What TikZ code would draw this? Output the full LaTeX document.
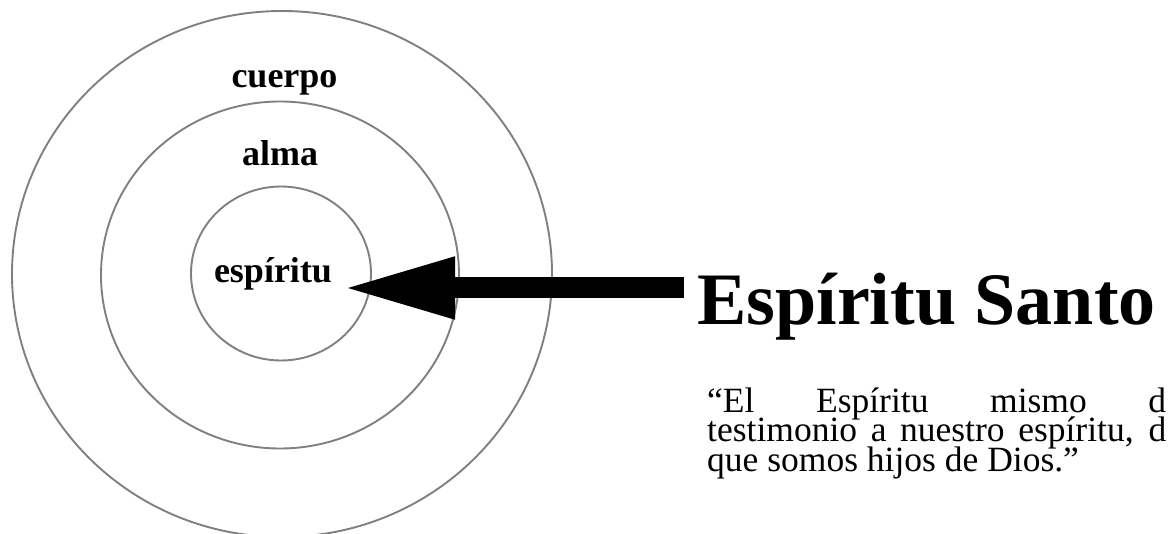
\documentclass[tikz,border=0pt]{standalone}
\usepackage{fontspec}
\setmainfont{Liberation Serif}
\usetikzlibrary{arrows.meta}
\definecolor{ringgray}{RGB}{128,128,128}
\tikzset{
  ring/.style={draw=ringgray, line width=1.9pt},
  layerlabel/.style={anchor=base, inner sep=0pt, font=\fontsize{36}{40}\selectfont\bfseries},
  titlelabel/.style={anchor=base west, inner sep=0pt, font=\fontsize{74}{80}\selectfont\bfseries},
  quoteline/.style={anchor=base west, inner sep=0pt, font=\fontsize{35.5}{30}\selectfont},
  bigarrow/.style={line width=21pt, -{Triangle[length=107pt, width=63.5pt, line width=0pt]}}
}
\begin{document}
\begin{tikzpicture}[x=1pt, y=-1pt]
\useasboundingbox (0,0) rectangle (1169,534);
\clip (0,0) rectangle (1169,534);
\fill[white] (0,0) rectangle (1169,534);
% rings
\draw[ring] (282,274) ellipse [x radius=270, y radius=263];
\draw[ring] (280,275) ellipse [x radius=179, y radius=173.5];
\draw[ring] (281,273.5) ellipse [x radius=90, y radius=87];
% labels
\node[layerlabel] (cuerpo) at (284.5,88) {cuerpo};
\node[layerlabel] (alma) at (280,166) {alma};
\node[layerlabel] (espiritu) at (273,283) {espíritu};
% title
\node[titlelabel] (santo) at (697,325) {Espíritu Santo};
% arrow
\coordinate (tail) at (684,288);
\coordinate (tip) at (348,288);
\draw[bigarrow] (tail) -- (tip);
% quote
\node[quoteline] (q1) at (707,412) {\makebox[459pt][s]{“El Espíritu mismo d}};
\node[quoteline] (q2) at (707,441.5) {\makebox[459pt][s]{testimonio a nuestro espíritu, d}};
\node[quoteline] (q3) at (707,471) {que somos hijos de Dios.”};
\end{tikzpicture}
\end{document}
